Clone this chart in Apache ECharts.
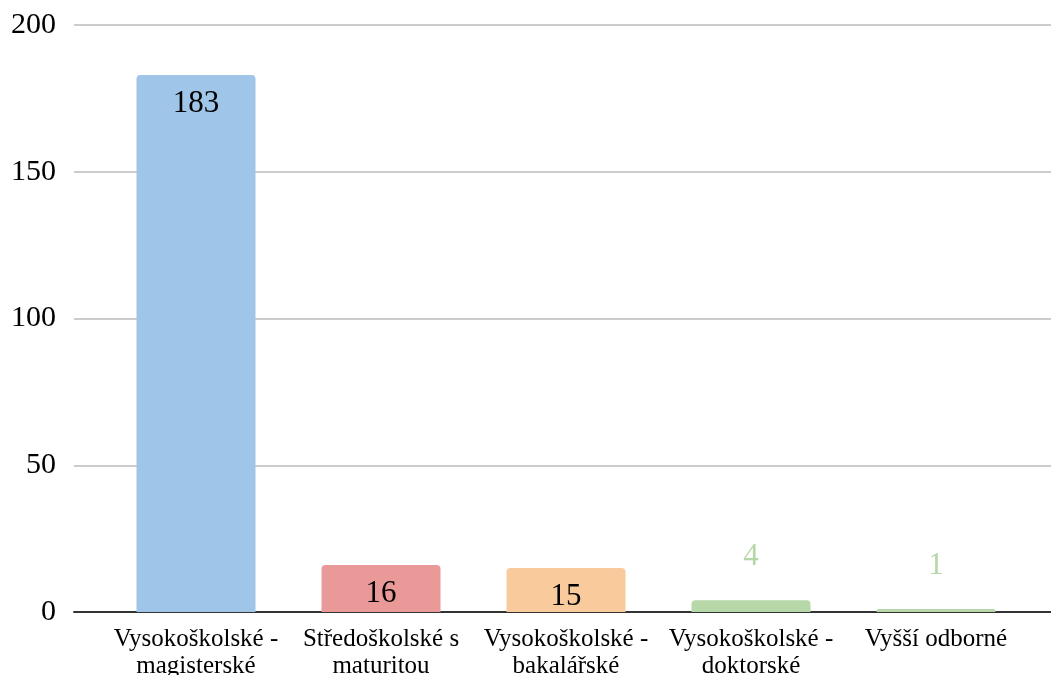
<!DOCTYPE html>
<html><head><meta charset="utf-8">
<script src="https://cdn.jsdelivr.net/npm/echarts@6/dist/echarts.min.js"></script>
<style>html,body{margin:0;padding:0;background:#fff}#c{width:1051px;height:675px}</style>
</head><body><div id="c"></div>
<script>
const categories = ["Vysokoškolské -\nmagisterské", "Středoškolské s\nmaturitou", "Vysokoškolské -\nbakalářské", "Vysokoškolské -\ndoktorské", "Vyšší odborné"];
const values = [183, 16, 15, 4, 1];
const colors = ["#9fc5e8", "#ea9999", "#f9cb9c", "#b6d7a8", "#b6d7a8"];
const yTicks = [0, 50, 100, 150, 200];

const font = "'Liberation Serif', 'Times New Roman', serif";
const chart = echarts.init(document.getElementById('c'));
chart.setOption({
  animation: false,
  grid: [
    {left: 74, right: 0, top: 25, bottom: 63, outerBoundsMode: 'none', containLabel: false},
    {left: 103.5, right: 22.5, top: 25, bottom: 63, outerBoundsMode: 'none', containLabel: false}
  ],
  xAxis: [
    {gridIndex: 0, type: 'value', min: 0, max: 1, show: true, axisLabel: {show: false}, splitLine: {show: false}, axisTick: {show: false},
      axisLine: {show: true, onZero: false, lineStyle: {color: '#333', width: 2}}},
    {gridIndex: 1, type: 'category', data: categories, axisLine: {show: false}, axisTick: {show: false},
      axisLabel: {fontFamily: font, fontSize: 25, color: '#000', lineHeight: 27, margin: 14, interval: 0}}
  ],
  yAxis: [
    {gridIndex: 0, type: 'value', min: yTicks[0], max: yTicks[yTicks.length-1], interval: 50,
      axisLine: {show: false}, axisTick: {show: false},
      axisLabel: {fontFamily: font, fontSize: 30, color: '#000', margin: 18},
      splitLine: {lineStyle: {color: '#cccccc', width: 2}}},
    {gridIndex: 1, type: 'value', min: 0, max: 200, show: false}
  ],
  series: [{
    type: 'bar', xAxisIndex: 1, yAxisIndex: 1, barWidth: 119,
    data: values.map((v, i) => {
      const inside = v >= 10;
      return {
        value: v,
        itemStyle: {color: colors[i], borderRadius: [4, 4, 0, 0]},
        label: inside ? {show: true, position: 'insideTop', distance: 13, color: '#000', fontFamily: font, fontSize: 31}
                      : {show: true, position: 'top', distance: 28, color: colors[i], fontFamily: font, fontSize: 31}
      };
    })
  }]
});
</script></body></html>
